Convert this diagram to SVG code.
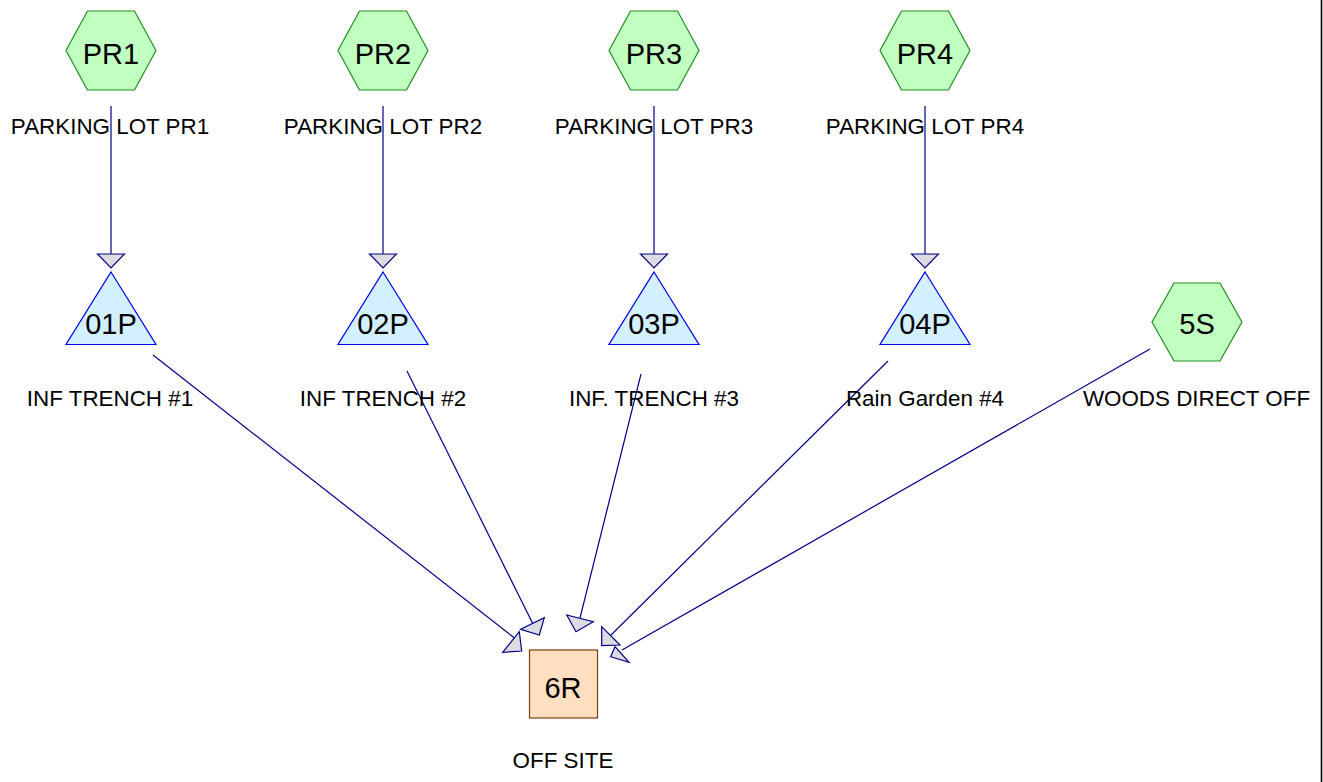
<svg xmlns="http://www.w3.org/2000/svg" width="1323" height="782" viewBox="0 0 1323 782">
  <style>
    .hex { fill: #c0ffc0; stroke: #1f8f1f; stroke-width: 1.2; }
    .tri { fill: #d2f0ff; stroke: #0000ee; stroke-width: 1.2; }
    .reach { fill: #ffdfbf; stroke: #7a3e0c; stroke-width: 1.2; }
    .link { stroke: #000088; stroke-width: 1.2; fill: none; }
    .head { fill: #dcdce0; stroke: #000088; stroke-width: 1.2; stroke-linejoin: miter; }
    .id { font-family: "Liberation Sans", Arial, sans-serif; font-size: 29px; text-anchor: middle; fill: #000; }
    .cap { font-family: "Liberation Sans", Arial, sans-serif; font-size: 22.4px; text-anchor: middle; fill: #000; }
  </style>
  <rect x="0" y="0" width="1323" height="782" fill="#ffffff"/>
  <line x1="1321.5" y1="0" x2="1321.5" y2="782" stroke="#000" stroke-width="1.6"/>

  <!-- connectors -->
  <g id="connectors">
    <line class="link" x1="111" y1="106" x2="111" y2="254"/>
    <polygon class="head" points="97.5,254 124.5,254 111,268"/>
    <line class="link" x1="383" y1="106" x2="383" y2="254"/>
    <polygon class="head" points="369.5,254 396.5,254 383,268"/>
    <line class="link" x1="654" y1="106" x2="654" y2="254"/>
    <polygon class="head" points="640.5,254 667.5,254 654,268"/>
    <line class="link" x1="925" y1="106" x2="925" y2="254"/>
    <polygon class="head" points="911.5,254 938.5,254 925,268"/>

    <line class="link" x1="153" y1="355" x2="517" y2="640"/>
    <polygon class="head" points="502.7,652.3 519.3,631.7 521.7,651"/>
    <line class="link" x1="407" y1="371" x2="533" y2="624"/>
    <polygon class="head" points="520.7,629.3 544.3,617.7 539.3,635"/>
    <line class="link" x1="641" y1="374" x2="580" y2="618"/>
    <polygon class="head" points="566.7,615 593.3,621.7 576,631.7"/>
    <line class="link" x1="1150" y1="349" x2="622" y2="650"/>
    <polygon class="head" points="615,646.7 610.7,656.7 629,662.3"/>
    <line class="link" x1="888" y1="361" x2="610" y2="636"/>
    <polygon class="head" points="601.7,626.7 601.7,645.7 620,645"/>
  </g>

  <!-- subcatchments -->
  <g id="PR1">
    <polygon class="hex" points="66,50.5 87.5,11 134.5,11 156,50.5 134.5,90 87.5,90"/>
    <text class="id" x="111" y="63.5">PR1</text>
    <text class="cap" x="110" y="133.5">PARKING LOT PR1</text>
  </g>
  <g id="PR2">
    <polygon class="hex" points="338,50.5 359.5,11 406.5,11 428,50.5 406.5,90 359.5,90"/>
    <text class="id" x="383" y="63.5">PR2</text>
    <text class="cap" x="383" y="133.5">PARKING LOT PR2</text>
  </g>
  <g id="PR3">
    <polygon class="hex" points="609,50.5 630.5,11 677.5,11 699,50.5 677.5,90 630.5,90"/>
    <text class="id" x="654" y="63.5">PR3</text>
    <text class="cap" x="654" y="133.5">PARKING LOT PR3</text>
  </g>
  <g id="PR4">
    <polygon class="hex" points="880,50.5 901.5,11 948.5,11 970,50.5 948.5,90 901.5,90"/>
    <text class="id" x="925" y="63.5">PR4</text>
    <text class="cap" x="925" y="133.5">PARKING LOT PR4</text>
  </g>
  <g id="N5S">
    <polygon class="hex" points="1152,322 1174,283 1220,283 1242,322 1220,361 1174,361"/>
    <text class="id" x="1197" y="333.5">5S</text>
    <text class="cap" x="1196.5" y="405.5">WOODS DIRECT OFF</text>
  </g>

  <!-- ponds -->
  <g id="N01P">
    <polygon class="tri" points="111,272 156,344.5 66,344.5"/>
    <text class="id" x="111" y="333.5">01P</text>
    <text class="cap" x="110" y="405.5">INF TRENCH #1</text>
  </g>
  <g id="N02P">
    <polygon class="tri" points="383,272 428,344.5 338,344.5"/>
    <text class="id" x="383" y="333.5">02P</text>
    <text class="cap" x="383" y="405.5">INF TRENCH #2</text>
  </g>
  <g id="N03P">
    <polygon class="tri" points="654,272 699,344.5 609,344.5"/>
    <text class="id" x="654" y="333.5">03P</text>
    <text class="cap" x="654" y="405.5">INF. TRENCH #3</text>
  </g>
  <g id="N04P">
    <polygon class="tri" points="925,272 970,344.5 880,344.5"/>
    <text class="id" x="925" y="333.5">04P</text>
    <text class="cap" x="925" y="405.5">Rain Garden #4</text>
  </g>

  <!-- reach -->
  <g id="N6R">
    <rect class="reach" x="529.5" y="650" width="68" height="68"/>
    <text class="id" x="563" y="697.5">6R</text>
    <text class="cap" x="563" y="768">OFF SITE</text>
  </g>
</svg>
